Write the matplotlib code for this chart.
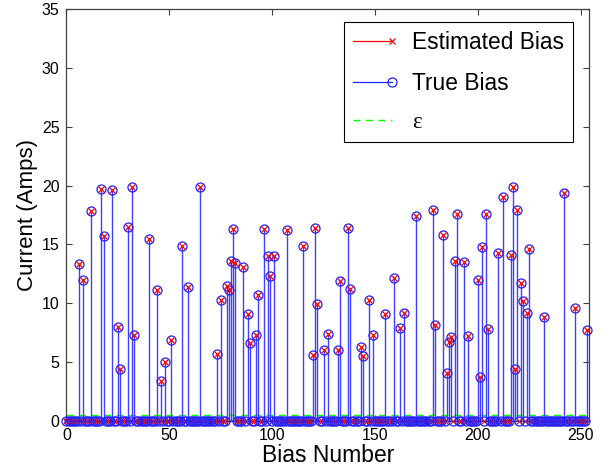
import numpy as np
import matplotlib
matplotlib.use("Agg")
import matplotlib.pyplot as plt
from matplotlib.lines import Line2D
from matplotlib.legend_handler import HandlerLine2D

plt.rcParams['font.family'] = ['Liberation Sans', 'DejaVu Sans']

# ---- data ----
n_bias = 254
spike_idx = [6, 8, 12, 17, 18, 22, 25, 26, 30, 32, 33, 40, 44, 46, 48, 51, 56, 59,
             65, 73, 75, 78, 79, 80, 81, 82, 86, 88, 89, 92, 93, 96, 98, 99, 101,
             107, 115, 120, 121, 122, 125, 127, 132, 133, 137, 138, 143, 144, 147,
             149, 155, 159, 162, 164, 170, 178, 179, 183, 185, 186, 187, 189, 190,
             193, 195, 200, 201, 202, 204, 205, 210, 212, 216, 217, 218, 219, 221,
             222, 224, 225, 232, 242, 247, 253]
true_val = [13.3, 12.0, 17.8, 19.7, 15.7, 19.6, 8.0, 4.4, 16.5, 19.9, 7.3, 15.5, 11.1,
            3.4, 5.0, 6.9, 14.9, 11.4, 19.9, 5.7, 10.3, 11.5, 11.1, 13.6, 16.3, 13.4,
            13.1, 9.1, 6.6, 7.3, 10.7, 16.3, 14.0, 12.3, 14.0, 16.2, 14.9, 5.6, 16.4,
            9.9, 6.0, 7.4, 6.0, 11.9, 16.4, 11.2, 6.3, 5.5, 10.3, 7.3, 9.1, 12.1, 7.9,
            9.2, 17.4, 17.9, 8.1, 15.8, 4.1, 6.7, 7.1, 13.6, 17.6, 13.5, 7.2, 12.0,
            3.7, 14.8, 17.6, 7.8, 14.3, 19.0, 14.1, 19.9, 4.4, 17.9, 11.7, 10.2, 9.2,
            14.6, 8.8, 19.4, 9.6, 7.7]
est_val = list(true_val)
epsilon = 0.5

x = np.arange(n_bias)
true_bias = np.zeros(n_bias)
true_bias[spike_idx] = true_val
est_bias = np.zeros(n_bias)
est_bias[spike_idx] = est_val
nz = est_bias != 0

# ---- figure ----
fig = plt.figure(figsize=(6.10, 4.72), dpi=100)
ax = fig.add_axes([0.109, 0.1087, 0.8566, 0.8716])

blue = '#2222ff'
red = '#ff0000'

# true stems (blue) -- the red estimated stems coincide and are hidden beneath
ax.vlines(x[spike_idx], 0, true_bias[spike_idx], color='#4040ff', lw=1.0, zorder=3)
# epsilon line
ax.plot([x[0], x[-1]], [epsilon, epsilon], color='#00ff00', ls=(0, (5, 4)), lw=1.0, zorder=2.5)
# estimated markers at zero (under the circles)
ax.plot(x[~nz], est_bias[~nz], ls='none', marker='x', ms=4.5, mec=red, mew=0.8,
        zorder=3.5, clip_on=False)
# true markers
ax.plot(x, true_bias, ls='none', marker='o', ms=6.5, mfc='none', mec=blue, mew=0.9,
        zorder=4, clip_on=False)
# estimated markers at spikes (on top)
ax.plot(x[nz], est_bias[nz], ls='none', marker='x', ms=5, mec=red, mew=0.9, zorder=5,
        clip_on=False)

ax.set_xlim(0, 254)
ax.set_ylim(0, 35)
ax.set_xticks([0, 50, 100, 150, 200, 250])
ax.set_yticks([0, 5, 10, 15, 20, 25, 30, 35])
ax.tick_params(direction='in', top=True, right=True, labelsize=11.5, length=4,
               color='#404040', pad=5)
for s in ax.spines.values():
    s.set_color('#404040')
    s.set_linewidth(0.9)

ax.set_xlabel('Bias Number', fontsize=16.5, labelpad=1)
ax.set_ylabel('Current (Amps)', fontsize=16, labelpad=3)


class EndMarkerHandler(HandlerLine2D):
    def create_artists(self, legend, orig_handle, xdescent, ydescent, width, height,
                       fontsize, trans):
        arts = super().create_artists(legend, orig_handle, xdescent, ydescent, width,
                                      height, fontsize, trans)
        for a in arts:
            if len(a.get_xdata()) == 3:
                a.set_markevery([2])
        return arts


h_est = Line2D([], [], color=red, lw=0.9, marker='x', ms=5, mew=0.9)
h_true = Line2D([], [], color=blue, lw=0.9, marker='o', ms=6.5, mfc='none', mew=0.9)
h_eps = Line2D([], [], color='#00ff00', lw=1.0, ls=(0, (5, 4)))
leg = ax.legend([h_est, h_true, h_eps], ['Estimated Bias', 'True Bias', 'ε'],
                loc='upper right', bbox_to_anchor=(0.970, 0.970), borderaxespad=0,
                fontsize=16.4, numpoints=1, handlelength=1.7, handletextpad=0.9,
                labelspacing=0.78, borderpad=0.4, fancybox=False, framealpha=1,
                edgecolor='black', handler_map={Line2D: EndMarkerHandler()})
leg.get_frame().set_linewidth(0.8)
leg.get_texts()[2].set_family(['Liberation Serif', 'DejaVu Serif'])

fig.savefig('out.png', dpi=100, facecolor='white')
